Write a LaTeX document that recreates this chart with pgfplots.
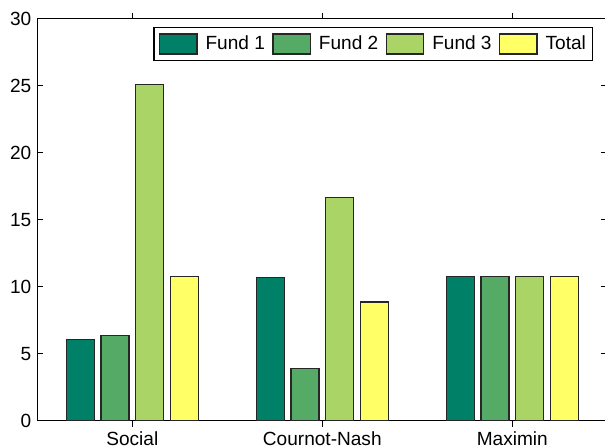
\documentclass[border=0pt]{standalone}
\usepackage{fontspec}
\setmainfont{Liberation Sans}
\usepackage{pgfplots}
\pgfplotsset{compat=1.18}

% summer colormap, four levels
\definecolor{fundA}{RGB}{0,128,102}
\definecolor{fundB}{RGB}{85,170,102}
\definecolor{fundC}{RGB}{170,213,102}
\definecolor{fundT}{RGB}{255,255,102}

\newcommand{\lbl}{\fontsize{14.3}{16}\selectfont}

\begin{document}
\begin{tikzpicture}
\begin{axis}[
  scale only axis,
  width=427.5pt, height=301.5pt,
  xmin=0.5, xmax=3.5, ymin=0, ymax=30,
  xtick={1,2,3},
  xticklabels={Social,Cournot-Nash,Maximin},
  ytick={0,5,...,30},
  tick align=inside, tick pos=both,
  major tick length=4.5pt,
  tick style={black, line width=0.6pt},
  axis line style={black, line width=0.75pt},
  tick label style={font=\lbl},
  /pgf/number format/assume math mode=true,
  yticklabel style={xshift=-1pt},
  xticklabel style={yshift=-0.5pt},
  ybar, bar width=0.147,
  every axis plot/.append style={draw=black!85, line width=1pt},
  legend columns=4,
  legend cell align=left,
  legend image code/.code={
    \draw[#1] (0pt,-7.5pt) rectangle (28pt,7.5pt);
  },
  legend style={
    at={(rel axis cs:1,1)}, anchor=north east,
    xshift=-10.5pt, yshift=-6pt,
    draw=black, line width=1.1pt,
    font=\lbl,
    inner xsep=3.5pt, inner ysep=4.5pt,
    nodes={inner xsep=1.5pt},
    /tikz/every odd column/.append style={column sep=4.5pt},
    /tikz/every even column/.append style={column sep=4pt},
  },
]
\addplot[fill=fundA, bar shift=-0.274] coordinates {(1,6.04) (2,10.70) (3,10.75)};
\addplot[fill=fundB, bar shift=-0.0915] coordinates {(1,6.37) (2,3.91) (3,10.75)};
\addplot[fill=fundC, bar shift=0.0915] coordinates {(1,25.10) (2,16.64) (3,10.75)};
\addplot[fill=fundT, bar shift=0.274] coordinates {(1,10.75) (2,8.86) (3,10.75)};
\legend{Fund 1,Fund 2,Fund 3,Total}
\end{axis}
\pgfresetboundingbox
\path (current axis.south west) ++(-28pt,-20.5pt) coordinate (bbl);
\path (current axis.south west) ++(425.8pt,315.5pt) coordinate (bbr);
\path[use as bounding box] (bbl) rectangle (bbr);
\end{tikzpicture}
\end{document}
